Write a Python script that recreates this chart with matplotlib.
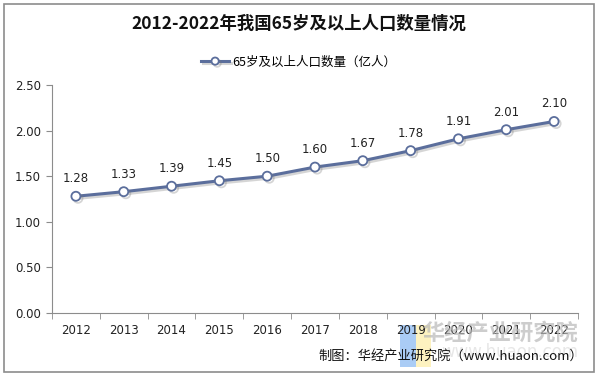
import matplotlib
matplotlib.use("Agg")
import matplotlib.pyplot as plt
import matplotlib.patheffects as pe
from matplotlib.patches import Rectangle

plt.rcParams['font.family'] = ['Noto Sans CJK SC', 'DejaVu Sans']

years = ['2012', '2013', '2014', '2015', '2016', '2017', '2018', '2019', '2020', '2021', '2022']
values = [1.28, 1.33, 1.39, 1.45, 1.50, 1.60, 1.67, 1.78, 1.91, 2.01, 2.10]
yticks = [0.0, 0.5, 1.0, 1.5, 2.0, 2.5]
title = '2012-2022年我国65岁及以上人口数量情况'
series_name = '65岁及以上人口数量（亿人）'
source = '制图：华经产业研究院（www.huaon.com）'

W, H = 598, 376
fig = plt.figure(figsize=(W/100, H/100), dpi=100)
fig.patch.set_facecolor('white')
fig.add_artist(Rectangle((4/W, 4/H), 590/W, 368/H, transform=fig.transFigure,
                         fill=False, edgecolor='#8c8c8c', linewidth=1.2))

ax = fig.add_axes([52/W, 1-313/H, (578-52)/W, (313-85)/H])
x = list(range(len(years)))
col = '#5b6e9c'
ax.plot(x, values, color=col, linewidth=2.2, marker='o', markersize=6.5,
        markerfacecolor='white', markeredgecolor=col, markeredgewidth=1.3,
        label=series_name, zorder=3,
        path_effects=[pe.SimpleLineShadow(offset=(1.5, -1.5), alpha=0.3, shadow_color='#777777'), pe.Normal()])
for xi, v in zip(x, values):
    ax.annotate(f'{v:.2f}', (xi, v), xytext=(0, 8), textcoords='offset points',
                ha='center', va='bottom', fontsize=8.5, color='#222222', family='DejaVu Sans')

ax.set_xlim(-0.5, len(years)-0.5)
ax.set_ylim(0, 2.5)
ax.set_yticks(yticks)
ax.set_yticklabels([f'{t:.2f}' for t in yticks], fontsize=8.5, family='DejaVu Sans', color='#222222')
ax.set_xticks(x)
ax.set_xticklabels(years, fontsize=8.5, family='DejaVu Sans', color='#222222')
ax.set_xticks([i - 0.5 for i in range(len(years)+1)], minor=True)
ax.tick_params(axis='x', which='major', length=0, pad=8)
ax.tick_params(axis='x', which='minor', length=4, color='#8c8c8c', direction='out')
ax.tick_params(axis='y', length=4, color='#8c8c8c', direction='out', pad=4)
for s in ['top', 'right']:
    ax.spines[s].set_visible(False)
ax.spines['left'].set_color('#8c8c8c')
ax.spines['bottom'].set_color('#8c8c8c')

fig.text(0.5, 1-24/H, title, ha='center', va='center', fontsize=12.5, fontweight='bold', color='#111111')
leg = fig.legend(loc='center', bbox_to_anchor=(0.5, 1-62/H), frameon=False, fontsize=9,
                 handlelength=2.2, handletextpad=0.3, markerscale=0.8)

# watermark
fig.add_artist(Rectangle((400/W, 1-367/H), 16/W, 42/H, transform=fig.transFigure,
                         facecolor='#aaccf5', edgecolor='none', zorder=0))
fig.add_artist(Rectangle((416/W, 1-367/H), 15/W, 42/H, transform=fig.transFigure,
                         facecolor='#fdf2c0', edgecolor='none', zorder=0))
fig.text(578/W, 1-333/H, '华经产业研究院', ha='right', va='center', fontsize=16,
         color='#b8b8b8', alpha=0.7, fontweight='bold', zorder=0)
fig.text(578/W, 1-352/H, 'www.huaon.com', ha='right', va='center', fontsize=12,
         color='#dddddd', alpha=0.7, family='DejaVu Sans', zorder=0)
fig.text(583/W, 1-356/H, source, ha='right', va='center', fontsize=9.5, color='#111111')

fig.savefig('out.png', dpi=100)
